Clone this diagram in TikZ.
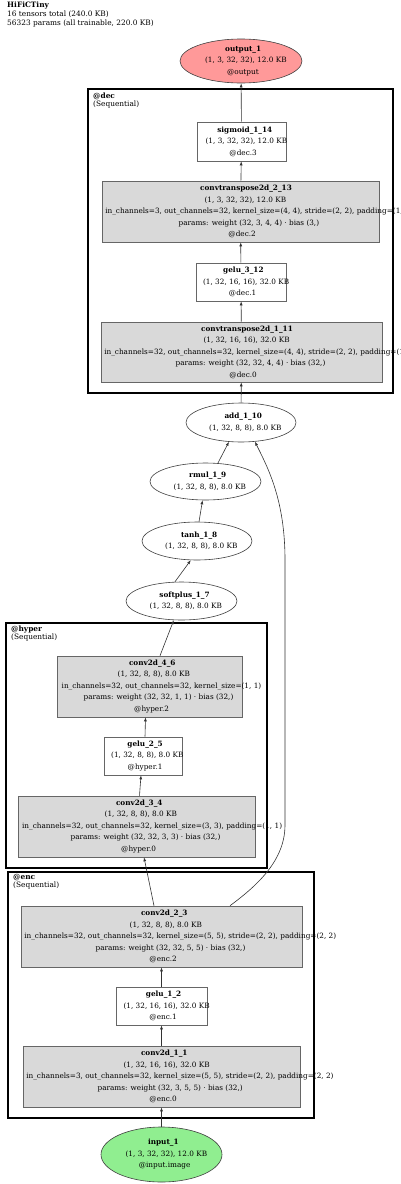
\documentclass[tikz,border=0pt]{standalone}
\usepackage{fontspec}
\setmainfont{DejaVu Serif}
\usetikzlibrary{arrows.meta, shapes.geometric}
\definecolor{OutputColor}{RGB}{255,153,153}
\definecolor{InputColor}{RGB}{144,238,144}
\definecolor{LayerColor}{RGB}{217,217,217}
% text line that is wider than the box graphviz measured for it
\newcommand{\gvline}[1]{\makebox[0.88\width][l]{#1}}

\begin{document}
\begin{tikzpicture}[x=1pt, y=-1pt,
    every node/.style={font=\fontsize{7.3}{11.5}\selectfont, inner sep=0pt, align=center},
    layer/.style={draw=black!60, line width=0.6pt, fill=LayerColor},
    plain/.style={draw=black!60, line width=0.6pt, fill=white},
    tensor/.style={ellipse, draw=black!75, line width=0.6pt, fill=white},
    cluster/.style={draw=black, line width=2.8pt},
    flow/.style={-{Latex[length=4pt, width=3pt]}, black!80, line width=0.6pt}]
  \useasboundingbox (0,0) rectangle (400,1184);

  % header
  \node[anchor=north west, align=left, font=\fontsize{7.4}{9}\selectfont] (title) at (7,2)
    {\textbf{HiFiCTiny}\\16 tensors total (240.0 KB)\\56323 params (all trainable, 220.0 KB)};

  % clusters
  \draw[cluster] (88,89) rectangle (393,393);
  \node[anchor=west, align=left, font=\fontsize{7.4}{8}\selectfont] (declbl) at (93,100)
    {\textbf{@dec}\\(Sequential)};
  \draw[cluster] (6,623) rectangle (267,868);
  \node[anchor=west, align=left, font=\fontsize{7.4}{8}\selectfont] (hyperlbl) at (11,633)
    {\textbf{@hyper}\\(Sequential)};
  \draw[cluster] (8,872) rectangle (314,1118);
  \node[anchor=west, align=left, font=\fontsize{7.4}{8}\selectfont] (enclbl) at (13,882)
    {\textbf{@enc}\\(Sequential)};

  % output and decoder
  \node[tensor, fill=OutputColor, minimum width=122, minimum height=44] (output) at (241,61)
    {\gvline{\textbf{output\_1}}\\\gvline{(1, 3, 32, 32), 12.0 KB}\\\gvline{@output}};
  \node[plain, minimum width=89, minimum height=39] (sigmoid) at (241.5,141.5)
    {\gvline{\textbf{sigmoid\_1\_14}}\\\gvline{(1, 3, 32, 32), 12.0 KB}\\\gvline{@dec.3}};
  \node[layer, minimum width=277, minimum height=61] (convt213) at (240.5,211.5)
    {\gvline{\textbf{convtranspose2d\_2\_13}}\\\gvline{(1, 3, 32, 32), 12.0 KB}\\
     \gvline{in\_channels=3, out\_channels=32, kernel\_size=(4, 4), stride=(2, 2), padding=(1, 1)}\\
     \gvline{params: weight (32, 3, 4, 4) · bias (3,)}\\\gvline{@dec.2}};
  \node[plain, minimum width=90, minimum height=38] (gelu312) at (241,282)
    {\gvline{\textbf{gelu\_3\_12}}\\\gvline{(1, 32, 16, 16), 32.0 KB}\\\gvline{@dec.1}};
  \node[layer, minimum width=281, minimum height=60] (convt111) at (241.5,352)
    {\gvline{\textbf{convtranspose2d\_1\_11}}\\\gvline{(1, 32, 16, 16), 32.0 KB}\\
     \gvline{in\_channels=32, out\_channels=32, kernel\_size=(4, 4), stride=(2, 2), padding=(1, 1)}\\
     \gvline{params: weight (32, 32, 4, 4) · bias (32,)}\\\gvline{@dec.0}};

  % functional ops
  \node[tensor, minimum width=110, minimum height=39] (add) at (241,422.5)
    {\gvline{\textbf{add\_1\_10}}\\\gvline{(1, 32, 8, 8), 8.0 KB}};
  \node[tensor, minimum width=111, minimum height=37] (rmul) at (205.5,481.5)
    {\gvline{\textbf{rmul\_1\_9}}\\\gvline{(1, 32, 8, 8), 8.0 KB}};
  \node[tensor, minimum width=110, minimum height=38] (tanh) at (197,541)
    {\gvline{\textbf{tanh\_1\_8}}\\\gvline{(1, 32, 8, 8), 8.0 KB}};
  \node[tensor, minimum width=111, minimum height=38] (softplus) at (181.5,601)
    {\gvline{\textbf{softplus\_1\_7}}\\\gvline{(1, 32, 8, 8), 8.0 KB}};

  % hyper
  \node[layer, minimum width=185, minimum height=61] (conv46) at (149.5,686.5)
    {\gvline{\textbf{conv2d\_4\_6}}\\\gvline{(1, 32, 8, 8), 8.0 KB}\\
     \gvline{in\_channels=32, out\_channels=32, kernel\_size=(1, 1)}\\
     \gvline{params: weight (32, 32, 1, 1) · bias (32,)}\\\gvline{@hyper.2}};
  \node[plain, minimum width=78, minimum height=38] (gelu25) at (143,756)
    {\gvline{\textbf{gelu\_2\_5}}\\\gvline{(1, 32, 8, 8), 8.0 KB}\\\gvline{@hyper.1}};
  \node[layer, minimum width=237, minimum height=61] (conv34) at (136.5,826.5)
    {\gvline{\textbf{conv2d\_3\_4}}\\\gvline{(1, 32, 8, 8), 8.0 KB}\\
     \gvline{in\_channels=32, out\_channels=32, kernel\_size=(3, 3), padding=(1, 1)}\\
     \gvline{params: weight (32, 32, 3, 3) · bias (32,)}\\\gvline{@hyper.0}};

  % encoder and input
  \node[layer, minimum width=281, minimum height=61] (conv23) at (161.5,936.5)
    {\gvline{\textbf{conv2d\_2\_3}}\\\gvline{(1, 32, 8, 8), 8.0 KB}\\
     \gvline{in\_channels=32, out\_channels=32, kernel\_size=(5, 5), stride=(2, 2), padding=(2, 2)}\\
     \gvline{params: weight (32, 32, 5, 5) · bias (32,)}\\\gvline{@enc.2}};
  \node[plain, minimum width=91, minimum height=38] (gelu12) at (161.5,1006)
    {\gvline{\textbf{gelu\_1\_2}}\\\gvline{(1, 32, 16, 16), 32.0 KB}\\\gvline{@enc.1}};
  \node[layer, minimum width=277, minimum height=61] (conv11) at (161.5,1076.5)
    {\gvline{\textbf{conv2d\_1\_1}}\\\gvline{(1, 32, 16, 16), 32.0 KB}\\
     \gvline{in\_channels=3, out\_channels=32, kernel\_size=(5, 5), stride=(2, 2), padding=(2, 2)}\\
     \gvline{params: weight (32, 3, 5, 5) · bias (32,)}\\\gvline{@enc.0}};
  \node[tensor, fill=InputColor, minimum width=121, minimum height=55] (input) at (161.5,1154.5)
    {\gvline{\textbf{input\_1}}\\\gvline{(1, 3, 32, 32), 12.0 KB}\\\gvline{@input.image}};

  % edges
  \draw[flow] (input) -- (conv11);
  \draw[flow] (conv11) -- (gelu12);
  \draw[flow] (gelu12) -- (conv23);
  \draw[flow] ([xshift=-7.5]conv23.north) -- ([xshift=7.5]conv34.south);
  \draw[flow] ([xshift=3]conv34.north) -- ([xshift=-2]gelu25.south);
  \draw[flow] ([xshift=2]gelu25.north) -- ([xshift=-4]conv46.south);
  \draw[flow] ([xshift=10.5]conv46.north) -- (softplus.248);
  \draw[flow] (softplus.109) -- (tanh.252);
  \draw[flow] (tanh.84) -- (rmul.261);
  \draw[flow] (rmul.56) -- (add.238);
  \draw[flow] ([xshift=68.5]conv23.north) .. controls (258,885) and (285,860) .. (285,825)
    -- (285,560) .. controls (285,500) and (268,468) .. (add.306);
  \draw[flow] (add) -- (convt111);
  \draw[flow] (convt111) -- (gelu312);
  \draw[flow] (gelu312) -- (convt213);
  \draw[flow] (convt213) -- (sigmoid);
  \draw[flow] (sigmoid) -- (output);
\end{tikzpicture}
\end{document}
